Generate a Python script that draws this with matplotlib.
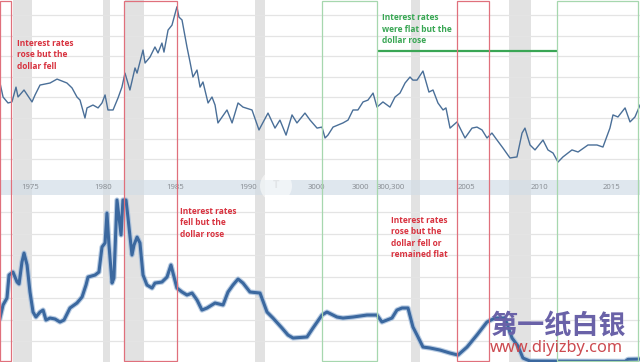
import matplotlib
matplotlib.use("Agg")
import matplotlib.pyplot as plt
import matplotlib.transforms as mtransforms
from matplotlib.patches import Rectangle, Ellipse

plt.rcParams['font.family'] = ['Open Sans', 'DejaVu Sans']

# ---------------- data ----------------
dollar_years = [1972.94, 1973.15, 1973.49, 1973.76, 1974.04, 1974.18, 1974.59, 1975.14, 1975.35, 1975.69,
                1976.38, 1976.86, 1977.54, 1977.89, 1978.23, 1978.44, 1978.78, 1978.92, 1979.33, 1979.68,
                1979.95, 1980.16, 1980.36, 1980.71, 1981.05, 1981.32, 1981.53, 1981.87, 1982.22, 1982.36,
                1982.77, 1982.91, 1983.25, 1983.59, 1983.80, 1984.07, 1984.21, 1984.49, 1984.76, 1985.10,
                1985.24, 1985.45, 1985.79, 1986.00, 1986.20, 1986.48, 1986.69, 1986.89, 1987.24, 1987.51,
                1987.72, 1987.92, 1988.54, 1988.89, 1989.30, 1989.64, 1990.26, 1990.74, 1991.36, 1991.84,
                1992.18, 1992.60, 1993.01, 1993.35, 1993.90, 1994.25, 1994.73, 1995.07, 1995.28, 1995.48,
                1995.83, 1996.17, 1996.51, 1996.86, 1997.20, 1997.54, 1997.89, 1998.23, 1998.58, 1998.85,
                1999.26, 1999.74, 2000.09, 2000.43, 2000.78, 2001.12, 2001.32, 2001.60, 2002.01, 2002.42,
                2002.70, 2003.04, 2003.39, 2003.59, 2003.87, 2004.35, 2004.90, 2005.38, 2005.72, 2006.07,
                2006.41, 2006.75, 2007.10, 2007.51, 2007.99, 2008.47, 2008.82, 2009.02, 2009.37, 2009.71,
                2010.26, 2010.60, 2010.95, 2011.29, 2011.63, 2012.25, 2012.67, 2013.35, 2013.97, 2014.38,
                2014.86, 2015.07, 2015.41, 2015.90, 2016.24, 2016.58, 2016.93]
dollar_values = [107.0, 100.2, 97.3, 97.8, 105.0, 100.2, 103.6, 97.8, 101.2, 106.0,
                 107.0, 108.9, 107.0, 104.6, 100.2, 98.7, 90.0, 94.9, 96.3, 94.9,
                 97.3, 101.2, 93.9, 93.9, 99.7, 105.0, 111.8, 103.6, 114.3, 111.8,
                 123.0, 116.7, 119.6, 124.5, 121.6, 126.4, 122.0, 132.7, 135.1, 144.0,
                 139.0, 137.6, 124.5, 117.2, 109.9, 113.3, 105.0, 107.5, 97.3, 100.2,
                 96.3, 87.6, 93.9, 87.6, 97.3, 95.3, 93.9, 84.2, 92.4, 85.1,
                 89.0, 81.7, 91.5, 87.6, 92.4, 89.0, 85.1, 85.6, 80.3, 81.7,
                 85.6, 86.6, 87.6, 89.0, 93.9, 93.9, 97.8, 98.7, 102.1, 95.3,
                 97.8, 95.3, 100.2, 102.1, 107.0, 109.9, 108.4, 108.4, 112.8, 102.6,
                 103.6, 97.3, 93.9, 94.9, 85.1, 88.1, 80.3, 85.1, 85.6, 84.2,
                 80.3, 82.7, 79.3, 75.4, 70.6, 71.1, 82.7, 85.1, 76.9, 74.5,
                 79.3, 74.5, 73.0, 68.6, 71.1, 74.5, 73.5, 76.9, 76.9, 75.9,
                 85.1, 91.5, 90.5, 94.9, 88.1, 90.5, 96.3]

rate_years = [1972.94, 1973.15, 1973.42, 1973.56, 1973.83, 1974.11, 1974.25, 1974.45, 1974.59, 1974.80,
              1975.00, 1975.21, 1975.41, 1975.69, 1975.90, 1976.10, 1976.38, 1976.72, 1977.06, 1977.34,
              1977.75, 1978.23, 1978.58, 1978.85, 1978.99, 1979.47, 1979.74, 1979.95, 1980.16, 1980.29,
              1980.43, 1980.64, 1980.77, 1980.98, 1981.26, 1981.39, 1981.60, 1981.74, 1982.01, 1982.15,
              1982.36, 1982.56, 1982.77, 1983.04, 1983.39, 1983.59, 1984.07, 1984.42, 1984.69, 1984.83,
              1985.10, 1985.45, 1985.79, 1986.14, 1986.48, 1986.82, 1987.17, 1987.72, 1988.27, 1988.61,
              1988.95, 1989.30, 1989.64, 1990.12, 1990.81, 1991.29, 1991.70, 1992.32, 1992.73, 1993.08,
              1994.04, 1994.45, 1995.07, 1995.41, 1996.10, 1996.51, 1997.20, 1998.16, 1998.85, 1999.19,
              1999.88, 2000.22, 2000.57, 2000.98, 2001.32, 2001.60, 2002.01, 2002.49, 2003.18, 2003.87,
              2004.42, 2005.04, 2005.72, 2006.41, 2006.96, 2007.65, 2008.13, 2008.54, 2008.88, 2009.37,
              2015.90, 2016.10, 2016.93]
rate_values = [5.17, 6.69, 7.50, 10.17, 10.52, 9.36, 9.13, 11.69, 12.73, 11.34,
               8.20, 5.87, 5.29, 5.87, 6.10, 4.94, 5.17, 5.06, 4.71, 4.94,
               6.34, 6.92, 7.62, 9.01, 9.94, 10.17, 10.52, 13.43, 13.90, 17.38,
               13.66, 9.24, 9.83, 18.90, 14.83, 18.90, 18.90, 16.80, 12.50, 13.66,
               14.59, 13.90, 10.17, 9.01, 8.66, 9.24, 9.36, 9.94, 11.34, 10.41,
               8.66, 8.20, 7.85, 8.08, 7.27, 6.10, 6.34, 6.92, 6.69, 8.20,
               9.01, 9.71, 9.24, 8.20, 8.08, 5.87, 5.17, 4.01, 3.20, 2.85,
               2.97, 4.01, 5.52, 5.87, 5.29, 5.17, 5.29, 5.52, 5.52, 4.71,
               5.17, 6.10, 6.34, 6.34, 4.13, 3.20, 1.80, 1.69, 1.45, 1.10,
               0.87, 1.80, 3.20, 4.71, 5.17, 5.17, 2.85, 1.92, 0.52, 0.17,
               0.13, 0.37, 0.40]

recessions = [(1973.83, 1975.17), (1980.0, 1980.5), (1981.5, 1982.83),
              (1990.5, 1991.17), (2001.17, 2001.83), (2007.92, 2009.42)]
red_boxes = [(1972.96, 1973.68), (1981.46, 1985.10), (2004.35, 2006.55)]
green_boxes = [(1995.10, 1998.85), (2011.22, 2016.80)]
flat_line_span = (1998.85, 2011.22)
flat_line_level = 122.5

tick_positions = [1975, 1980, 1985, 1990, 1994.7, 1997.7, 1999.8, 2005, 2010, 2015]
tick_labels = ["1975", "1980", "1985", "1990", "3000", "3000", "300,300", "2005", "2010", "2015"]

notes = [
    ("top", 1974.1, 128.5, "Interest rates\nrose but the\ndollar fell", "#d8323f"),
    ("top", 1999.2, 140.8, "Interest rates\nwere flat but the\ndollar rose", "#38a653"),
    ("bottom", 1985.3, 18.1, "Interest rates\nfell but the\ndollar rose", "#d8323f"),
    ("bottom", 1999.8, 17.05, "Interest rates\nrose but the\ndollar fell or\nremained flat", "#d8323f"),
]

# ---------------- layout ----------------
W, H = 640, 362
fig = plt.figure(figsize=(6.4, 3.62), dpi=100)
fig.patch.set_facecolor("white")
XMIN, XMAX = 1972.94, 1972.94 + 640 / 14.55

def fy(p):
    return 1 - p / H

ax_top = fig.add_axes([0, fy(180), 1, 180 / H])
ax_mid = fig.add_axes([0, fy(195), 1, 15 / H])
ax_bot = fig.add_axes([0, 0, 1, 167 / H])

for ax in (ax_top, ax_mid, ax_bot):
    ax.set_xlim(XMIN, XMAX)
    for s in ax.spines.values():
        s.set_visible(False)
    ax.set_xticks([])
    ax.set_yticks([])

ax_top.set_ylim(59.9, 147.3)
ax_bot.set_ylim(0.06, 19.48)
ax_mid.set_ylim(0, 1)

grid_c = "#e4e4e4"
for v in range(70, 150, 10):
    ax_top.axhline(v, color=grid_c, lw=0.9, zorder=1)
for v in [2.5, 5, 7.5, 10, 12.5, 15, 17.5]:
    ax_bot.axhline(v, color=grid_c, lw=0.9, zorder=1)

for a, b in recessions:
    ax_top.axvspan(a, b, color="#e2e2e2", lw=0, zorder=0.5)
    ax_bot.axvspan(a, b, color="#e2e2e2", lw=0, zorder=0.5)

# middle band
ax_mid.set_facecolor("#dfe7ee")
for a, b in recessions:
    ax_mid.axvspan(a, b, color="#d7dee4", lw=0, zorder=0.5)
for p, t in zip(tick_positions, tick_labels):
    ax_mid.text(p, 0.5, t, ha="center", va="center", fontsize=5.6, color="#858a90", zorder=3)

# faint logo watermark
logo = Ellipse((276 / W, fy(186)), 32 / W, 32 / H, transform=fig.transFigure,
               color="white", alpha=0.55, lw=0, zorder=5)
fig.add_artist(logo)
fig.text(276 / W, fy(185), "T", ha="center", va="center", fontsize=8, color="#e2e5e8",
         weight="bold", zorder=6)

# lines
ax_top.plot(dollar_years, dollar_values, color="#4a6f98", lw=1.0, zorder=3)
ax_bot.plot(rate_years, rate_values, color="#a8c0dc", lw=3.8, alpha=0.8, zorder=3, solid_joinstyle="round")
ax_bot.plot(rate_years, rate_values, color="#3b689f", lw=2.2, zorder=4, solid_joinstyle="round")

# boxes spanning the whole figure
tr = mtransforms.blended_transform_factory(ax_top.transData, fig.transFigure)
for a, b in red_boxes:
    fig.add_artist(Rectangle((a, 0.004), b - a, 0.993, transform=tr, fill=False,
                             edgecolor="#e0707c", lw=0.9, zorder=7))
for a, b in green_boxes:
    fig.add_artist(Rectangle((a, 0.004), b - a, 0.993, transform=tr, fill=False,
                             edgecolor="#a6d7ae", lw=0.9, zorder=7))

ax_top.hlines(flat_line_level, flat_line_span[0], flat_line_span[1], color="#3aa655", lw=1.6, zorder=8)

for panel, x, y, txt, col in notes:
    ax = ax_top if panel == "top" else ax_bot
    ax.text(x, y, txt, ha="left", va="top", fontsize=6, weight="bold", color=col,
            linespacing=1.35, zorder=9)

# site watermark
fig.text(490 / W, fy(326), "第一纸白银", ha="left", va="center", fontsize=19.5, weight="bold",
         color="#6a62a8", family=["Noto Sans CJK SC", "DejaVu Sans"], zorder=10)
fig.text(490 / W, fy(348), "www.diyizby.com", ha="left", va="center", fontsize=11.8, weight="bold",
         color="#cc4a50", family=["Noto Sans", "DejaVu Sans"], zorder=10)

fig.savefig("out.png", dpi=100, facecolor="white")
